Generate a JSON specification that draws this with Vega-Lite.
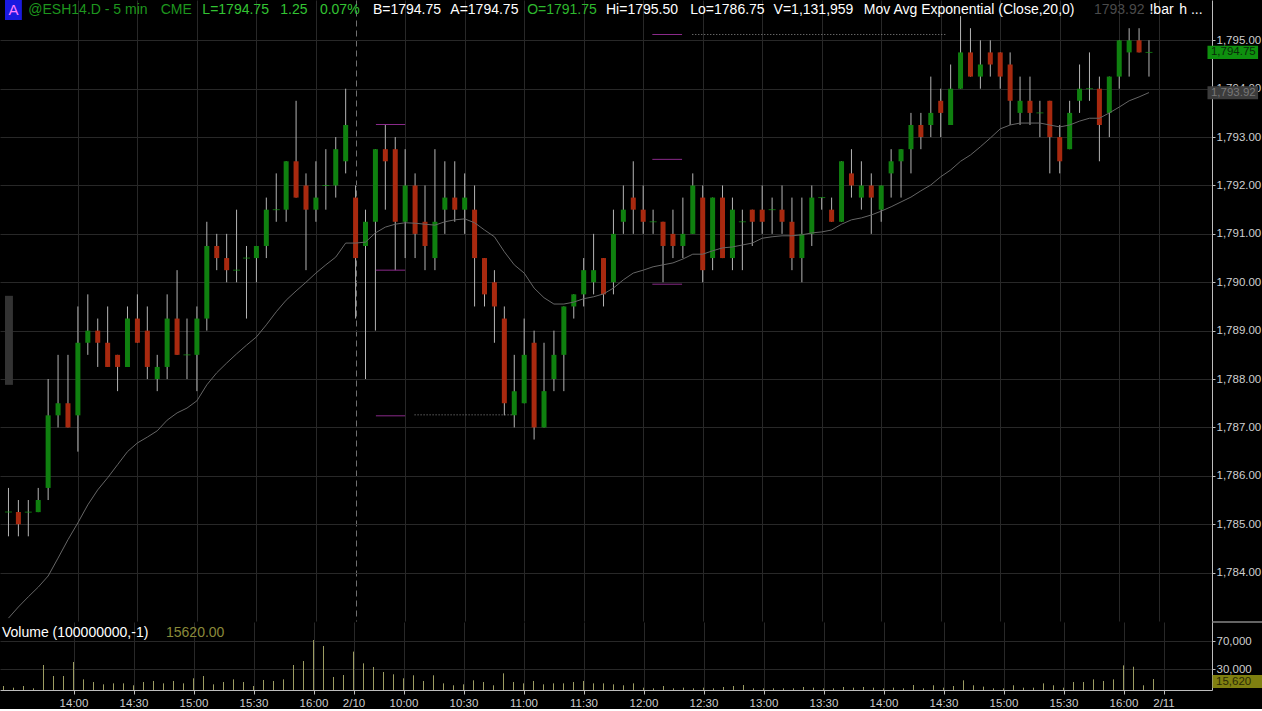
{
"$schema": "https://vega.github.io/schema/vega-lite/v6.json",
"background": "#000000",
"padding": 0,
"spacing": 1,
"bounds": "flush",
"config": {
  "view": {"stroke": null},
  "axis": {"labelFont": "Liberation Sans", "labelFontSize": 11.5, "labelColor": "#cfcfcf", "domainColor": "#bdbdbd", "tickColor": "#bdbdbd", "gridColor": "#282828", "title": null, "tickSize": 3, "labelPadding": 2, "labelOverlap": false, "labelFlush": false, "labelBound": false},
  "text": {"font": "Liberation Sans"}
},
"datasets": {
"bars": [
{"k":0,"o":1785.25,"h":1785.75,"l":1784.75,"c":1785.25,"v":5700,"e":1783.06},
{"k":1,"o":1785.25,"h":1785.5,"l":1784.75,"c":1785.0,"v":3300,"e":1783.29},
{"k":2,"o":1785.25,"h":1785.5,"l":1784.75,"c":1785.25,"v":5700,"e":1783.5},
{"k":3,"o":1785.25,"h":1785.75,"l":1785.25,"c":1785.5,"v":2400,"e":1783.7},
{"k":4,"o":1785.75,"h":1788.0,"l":1785.5,"c":1787.25,"v":35700,"e":1783.93},
{"k":5,"o":1787.25,"h":1788.5,"l":1787.0,"c":1787.5,"v":20000,"e":1784.3},
{"k":6,"o":1787.5,"h":1788.5,"l":1787.0,"c":1787.0,"v":20000,"e":1784.68},
{"k":7,"o":1787.25,"h":1789.5,"l":1786.5,"c":1788.75,"v":40000,"e":1785.03},
{"k":8,"o":1788.75,"h":1789.75,"l":1788.5,"c":1789.0,"v":15200,"e":1785.4},
{"k":9,"o":1789.0,"h":1789.25,"l":1788.25,"c":1788.75,"v":11400,"e":1785.71},
{"k":10,"o":1788.75,"h":1789.5,"l":1788.25,"c":1788.25,"v":8100,"e":1785.96},
{"k":11,"o":1788.5,"h":1788.5,"l":1787.75,"c":1788.25,"v":9500,"e":1786.23},
{"k":12,"o":1788.25,"h":1789.5,"l":1788.25,"c":1789.25,"v":9500,"e":1786.5},
{"k":13,"o":1789.25,"h":1789.75,"l":1788.75,"c":1788.75,"v":6700,"e":1786.68},
{"k":14,"o":1789.0,"h":1789.5,"l":1788.0,"c":1788.25,"v":11400,"e":1786.8},
{"k":15,"o":1788.0,"h":1788.5,"l":1787.75,"c":1788.25,"v":12900,"e":1786.93},
{"k":16,"o":1788.25,"h":1789.75,"l":1788.0,"c":1789.25,"v":9500,"e":1787.15},
{"k":17,"o":1789.25,"h":1790.25,"l":1788.5,"c":1788.5,"v":12900,"e":1787.3},
{"k":18,"o":1788.5,"h":1789.25,"l":1788.0,"c":1788.5,"v":9500,"e":1787.4},
{"k":19,"o":1788.5,"h":1789.5,"l":1787.75,"c":1789.25,"v":16700,"e":1787.55},
{"k":20,"o":1789.25,"h":1791.25,"l":1789.0,"c":1790.75,"v":20000,"e":1787.88},
{"k":21,"o":1790.75,"h":1791.0,"l":1790.25,"c":1790.5,"v":8100,"e":1788.13},
{"k":22,"o":1790.5,"h":1791.0,"l":1790.0,"c":1790.25,"v":11400,"e":1788.33},
{"k":23,"o":1790.25,"h":1791.5,"l":1790.0,"c":1790.25,"v":15200,"e":1788.52},
{"k":24,"o":1790.5,"h":1790.75,"l":1789.25,"c":1790.5,"v":11400,"e":1788.7},
{"k":25,"o":1790.5,"h":1790.75,"l":1790.0,"c":1790.75,"v":5700,"e":1788.87},
{"k":26,"o":1790.75,"h":1791.75,"l":1790.5,"c":1791.5,"v":14300,"e":1789.12},
{"k":27,"o":1791.5,"h":1792.25,"l":1791.25,"c":1791.5,"v":12900,"e":1789.39},
{"k":28,"o":1791.5,"h":1792.5,"l":1791.25,"c":1792.5,"v":15200,"e":1789.63},
{"k":29,"o":1792.5,"h":1793.75,"l":1791.75,"c":1791.75,"v":35700,"e":1789.82},
{"k":30,"o":1792.0,"h":1792.25,"l":1790.25,"c":1791.5,"v":41400,"e":1790.0},
{"k":31,"o":1791.5,"h":1792.5,"l":1791.25,"c":1791.75,"v":71400,"e":1790.19},
{"k":32,"o":1792.0,"h":1792.75,"l":1791.5,"c":1792.0,"v":62900,"e":1790.36},
{"k":33,"o":1792.0,"h":1793.0,"l":1791.75,"c":1792.75,"v":18600,"e":1790.52},
{"k":34,"o":1792.5,"h":1794.0,"l":1792.25,"c":1793.25,"v":21400,"e":1790.81},
{"k":35,"o":1791.75,"h":1792.0,"l":1789.25,"c":1790.5,"v":54800,"e":1790.81},
{"k":36,"o":1790.75,"h":1791.5,"l":1788.0,"c":1791.25,"v":38100,"e":1790.83},
{"k":37,"o":1791.25,"h":1792.75,"l":1789.0,"c":1792.75,"v":32900,"e":1791.02},
{"k":38,"o":1792.75,"h":1793.25,"l":1791.5,"c":1792.5,"v":25700,"e":1791.14},
{"k":39,"o":1792.75,"h":1793.0,"l":1790.25,"c":1791.25,"v":22400,"e":1791.2},
{"k":40,"o":1791.25,"h":1792.75,"l":1790.5,"c":1792.0,"v":16700,"e":1791.23},
{"k":41,"o":1792.0,"h":1792.25,"l":1790.5,"c":1791.0,"v":21000,"e":1791.22},
{"k":42,"o":1791.25,"h":1792.0,"l":1790.25,"c":1790.75,"v":12900,"e":1791.2},
{"k":43,"o":1790.5,"h":1792.75,"l":1790.25,"c":1791.25,"v":21000,"e":1791.18},
{"k":44,"o":1791.5,"h":1792.5,"l":1791.0,"c":1791.75,"v":9500,"e":1791.25},
{"k":45,"o":1791.75,"h":1792.5,"l":1791.25,"c":1791.5,"v":6700,"e":1791.29},
{"k":46,"o":1791.5,"h":1792.25,"l":1791.0,"c":1791.75,"v":8100,"e":1791.31},
{"k":47,"o":1791.5,"h":1792.0,"l":1789.5,"c":1790.5,"v":13800,"e":1791.23},
{"k":48,"o":1790.5,"h":1790.5,"l":1789.5,"c":1789.75,"v":11400,"e":1791.08},
{"k":49,"o":1790.0,"h":1790.25,"l":1788.75,"c":1789.5,"v":6700,"e":1790.94},
{"k":50,"o":1789.25,"h":1789.5,"l":1787.25,"c":1787.5,"v":23800,"e":1790.63},
{"k":51,"o":1787.25,"h":1788.5,"l":1787.0,"c":1787.75,"v":11400,"e":1790.36},
{"k":52,"o":1787.5,"h":1789.25,"l":1787.5,"c":1788.5,"v":9500,"e":1790.19},
{"k":53,"o":1788.75,"h":1789.0,"l":1786.75,"c":1787.0,"v":12900,"e":1789.88},
{"k":54,"o":1787.0,"h":1788.75,"l":1787.0,"c":1787.75,"v":8100,"e":1789.68},
{"k":55,"o":1788.0,"h":1789.0,"l":1787.75,"c":1788.5,"v":9500,"e":1789.55},
{"k":56,"o":1788.5,"h":1789.5,"l":1787.75,"c":1789.5,"v":9500,"e":1789.55},
{"k":57,"o":1789.5,"h":1789.75,"l":1789.25,"c":1789.75,"v":11400,"e":1789.59},
{"k":58,"o":1789.75,"h":1790.5,"l":1789.5,"c":1790.25,"v":12900,"e":1789.66},
{"k":59,"o":1790.0,"h":1791.0,"l":1789.75,"c":1790.25,"v":9500,"e":1789.7},
{"k":60,"o":1790.5,"h":1790.5,"l":1789.5,"c":1789.75,"v":9500,"e":1789.76},
{"k":61,"o":1790.0,"h":1791.5,"l":1789.75,"c":1791.0,"v":8100,"e":1789.88},
{"k":62,"o":1791.25,"h":1792.0,"l":1791.0,"c":1791.5,"v":6700,"e":1790.05},
{"k":63,"o":1791.75,"h":1792.5,"l":1791.0,"c":1791.5,"v":9500,"e":1790.19},
{"k":64,"o":1791.5,"h":1792.0,"l":1791.0,"c":1791.25,"v":3300,"e":1790.25},
{"k":65,"o":1791.25,"h":1791.5,"l":1791.0,"c":1791.25,"v":2400,"e":1790.32},
{"k":66,"o":1791.25,"h":1791.25,"l":1790.0,"c":1790.75,"v":5700,"e":1790.36},
{"k":67,"o":1791.0,"h":1791.5,"l":1790.5,"c":1790.75,"v":2400,"e":1790.4},
{"k":68,"o":1790.75,"h":1791.75,"l":1790.5,"c":1791.0,"v":3300,"e":1790.48},
{"k":69,"o":1791.0,"h":1792.25,"l":1791.0,"c":1792.0,"v":2400,"e":1790.58},
{"k":70,"o":1791.75,"h":1792.0,"l":1790.0,"c":1790.25,"v":3300,"e":1790.58},
{"k":71,"o":1790.5,"h":1791.75,"l":1790.25,"c":1791.75,"v":2400,"e":1790.65},
{"k":72,"o":1791.75,"h":1792.0,"l":1790.5,"c":1790.5,"v":4300,"e":1790.71},
{"k":73,"o":1790.5,"h":1791.75,"l":1790.25,"c":1791.5,"v":5700,"e":1790.73},
{"k":74,"o":1791.25,"h":1791.5,"l":1790.25,"c":1791.25,"v":7100,"e":1790.77},
{"k":75,"o":1791.5,"h":1791.5,"l":1790.75,"c":1791.25,"v":2400,"e":1790.81},
{"k":76,"o":1791.5,"h":1792.0,"l":1791.0,"c":1791.25,"v":2400,"e":1790.91},
{"k":77,"o":1791.5,"h":1791.75,"l":1791.0,"c":1791.5,"v":2400,"e":1790.94},
{"k":78,"o":1791.5,"h":1792.0,"l":1791.0,"c":1791.25,"v":2400,"e":1790.96},
{"k":79,"o":1791.25,"h":1791.75,"l":1790.25,"c":1790.5,"v":2400,"e":1790.96},
{"k":80,"o":1790.5,"h":1791.75,"l":1790.0,"c":1791.0,"v":4300,"e":1790.98},
{"k":81,"o":1791.0,"h":1792.0,"l":1790.75,"c":1791.75,"v":3300,"e":1791.02},
{"k":82,"o":1791.75,"h":1791.75,"l":1791.5,"c":1791.75,"v":2400,"e":1791.04},
{"k":83,"o":1791.5,"h":1791.75,"l":1791.25,"c":1791.25,"v":2400,"e":1791.08},
{"k":84,"o":1791.25,"h":1792.5,"l":1791.25,"c":1792.5,"v":4300,"e":1791.2},
{"k":85,"o":1792.25,"h":1792.75,"l":1791.75,"c":1792.0,"v":3300,"e":1791.29},
{"k":86,"o":1791.75,"h":1792.5,"l":1791.5,"c":1792.0,"v":4300,"e":1791.33},
{"k":87,"o":1792.0,"h":1792.25,"l":1791.0,"c":1791.75,"v":3300,"e":1791.39},
{"k":88,"o":1791.5,"h":1792.0,"l":1791.25,"c":1792.0,"v":2400,"e":1791.47},
{"k":89,"o":1792.25,"h":1792.75,"l":1791.75,"c":1792.5,"v":3300,"e":1791.56},
{"k":90,"o":1792.5,"h":1792.75,"l":1791.75,"c":1792.75,"v":2400,"e":1791.66},
{"k":91,"o":1792.75,"h":1793.5,"l":1792.25,"c":1793.25,"v":7100,"e":1791.76},
{"k":92,"o":1793.25,"h":1793.5,"l":1792.75,"c":1793.0,"v":2400,"e":1791.89},
{"k":93,"o":1793.25,"h":1794.25,"l":1793.0,"c":1793.5,"v":6700,"e":1792.01},
{"k":94,"o":1793.75,"h":1794.0,"l":1793.0,"c":1793.5,"v":3300,"e":1792.18},
{"k":95,"o":1793.25,"h":1794.5,"l":1793.25,"c":1794.0,"v":5700,"e":1792.32},
{"k":96,"o":1794.0,"h":1795.5,"l":1794.0,"c":1794.75,"v":13800,"e":1792.5},
{"k":97,"o":1794.75,"h":1795.25,"l":1794.25,"c":1794.25,"v":6700,"e":1792.63},
{"k":98,"o":1794.25,"h":1795.0,"l":1794.0,"c":1794.5,"v":4800,"e":1792.8},
{"k":99,"o":1794.75,"h":1795.0,"l":1794.25,"c":1794.5,"v":2400,"e":1792.98},
{"k":100,"o":1794.75,"h":1794.75,"l":1794.0,"c":1794.25,"v":2400,"e":1793.17},
{"k":101,"o":1794.5,"h":1794.75,"l":1793.25,"c":1793.75,"v":6700,"e":1793.25},
{"k":102,"o":1793.5,"h":1794.25,"l":1793.25,"c":1793.75,"v":3300,"e":1793.29},
{"k":103,"o":1793.75,"h":1794.25,"l":1793.25,"c":1793.5,"v":3300,"e":1793.29},
{"k":104,"o":1793.5,"h":1793.75,"l":1793.0,"c":1793.5,"v":9500,"e":1793.29},
{"k":105,"o":1793.75,"h":1793.75,"l":1792.25,"c":1793.0,"v":6700,"e":1793.25},
{"k":106,"o":1793.0,"h":1793.25,"l":1792.25,"c":1792.5,"v":3300,"e":1793.21},
{"k":107,"o":1792.75,"h":1793.75,"l":1792.75,"c":1793.5,"v":11400,"e":1793.25},
{"k":108,"o":1793.75,"h":1794.5,"l":1793.5,"c":1794.0,"v":11400,"e":1793.33},
{"k":109,"o":1794.0,"h":1794.75,"l":1793.75,"c":1794.0,"v":15200,"e":1793.39},
{"k":110,"o":1794.0,"h":1794.25,"l":1792.5,"c":1793.25,"v":12900,"e":1793.39},
{"k":111,"o":1793.5,"h":1794.25,"l":1793.0,"c":1794.25,"v":15200,"e":1793.5},
{"k":112,"o":1794.25,"h":1795.0,"l":1794.0,"c":1795.0,"v":35200,"e":1793.62},
{"k":113,"o":1794.75,"h":1795.25,"l":1794.25,"c":1795.0,"v":33300,"e":1793.75},
{"k":114,"o":1795.0,"h":1795.25,"l":1794.75,"c":1794.75,"v":6700,"e":1793.83},
{"k":115,"o":1794.75,"h":1795.0,"l":1794.25,"c":1794.75,"v":15620,"e":1793.92}
],
"levels": [
{"p":1795.12,"a":64.92,"b":67.92},
{"p":1792.54,"a":64.92,"b":67.92},
{"p":1789.96,"a":64.92,"b":67.92},
{"p":1793.26,"a":37.05,"b":40.0},
{"p":1790.25,"a":37.05,"b":40.0},
{"p":1787.24,"a":37.05,"b":40.0}
],
"dots": [
{"p":1795.12,"a":68.95,"b":94.65},
{"p":1787.26,"a":40.95,"b":50.85}
]
},
"vconcat": [
{
  "width": 1212,
  "height": 621,
  "layer": [
    {
      "data": {"name": "bars"},
      "mark": {"type": "rule", "color": "#b4b4b4", "strokeWidth": 1},
      "encoding": {
        "x": {"field": "k", "type": "quantitative", "scale": {"domain": [-0.35, 120.85], "nice": false, "zero": false},
              "axis": {"orient": "bottom", "labels": false, "ticks": false, "domain": false, "grid": true,
                       "values": [7,13,19,25,31,35,40,46,52,58,64,70,76,82,88,94,100,106,112,116],
                       "gridColor": {"condition": {"test": "datum.value == 35", "value": "#707070"}, "value": "#282828"},
                       "gridDash": {"condition": {"test": "datum.value == 35", "value": [6, 4]}, "value": []}}},
        "y": {"field": "l", "type": "quantitative", "scale": {"domain": [1783.0, 1795.833], "nice": false, "zero": false},
              "axis": {"orient": "right", "grid": true, "values": [1784,1785,1786,1787,1788,1789,1790,1791,1792,1793,1794,1795], "format": ",.2f", "labelPadding": 1}},
        "y2": {"field": "h"}
      }
    },
    {
      "data": {"name": "bars"},
      "mark": {"type": "bar", "width": 5},
      "encoding": {
        "x": {"field": "k", "type": "quantitative"},
        "y": {"field": "o", "type": "quantitative"},
        "y2": {"field": "c"},
        "color": {"condition": {"test": "datum.c >= datum.o", "value": "#0f800f"}, "value": "#a8290f"}
      }
    },
    {
      "data": {"name": "bars"},
      "transform": [{"filter": "datum.o == datum.c"}],
      "mark": {"type": "tick", "orient": "horizontal", "size": 7, "thickness": 1, "color": "#159a15"},
      "encoding": {
        "x": {"field": "k", "type": "quantitative"},
        "y": {"field": "c", "type": "quantitative"}
      }
    },
    {
      "data": {"name": "bars"},
      "mark": {"type": "line", "color": "#666666", "strokeWidth": 1},
      "encoding": {
        "x": {"field": "k", "type": "quantitative"},
        "y": {"field": "e", "type": "quantitative"}
      }
    },
    {
      "data": {"name": "levels"},
      "mark": {"type": "rule", "color": "#8a2a8a", "strokeWidth": 1},
      "encoding": {
        "x": {"field": "a", "type": "quantitative"},
        "x2": {"field": "b"},
        "y": {"field": "p", "type": "quantitative"}
      }
    },
    {
      "data": {"name": "dots"},
      "mark": {"type": "rule", "color": "#8c8c8c", "strokeWidth": 1, "strokeDash": [1, 2]},
      "encoding": {
        "x": {"field": "a", "type": "quantitative"},
        "x2": {"field": "b"},
        "y": {"field": "p", "type": "quantitative"}
      }
    },
    {
      "data": {"values": [{}]},
      "mark": {"type": "rect", "color": "#333333"},
      "encoding": {"x": {"datum": -0.35, "type": "quantitative"}, "x2": {"datum": 0.45}, "y": {"datum": 1789.72, "type": "quantitative"}, "y2": {"datum": 1787.88}}
    },
    {
      "data": {"values": [{}]},
      "mark": {"type": "rect", "color": "#1a1ae0"},
      "encoding": {"x": {"datum": -0.35, "type": "quantitative"}, "x2": {"datum": 1.35}, "y": {"datum": 1795.833, "type": "quantitative"}, "y2": {"datum": 1795.42}}
    },
    {
      "data": {"values": [{}]},
      "mark": {"type": "text", "text": "A", "align": "center", "baseline": "middle", "fontSize": 15, "color": "#ff7cff"},
      "encoding": {"x": {"datum": 0.5, "type": "quantitative"}, "y": {"datum": 1795.63, "type": "quantitative"}}
    },
    {
      "data": {"values": [{}]},
      "mark": {"type": "text", "text": "@ESH14.D - 5 min", "align": "left", "baseline": "middle", "fontSize": 14, "color": "#1e961e"},
      "encoding": {"x": {"datum": 2.0, "type": "quantitative"}, "y": {"datum": 1795.63, "type": "quantitative"}}
    },
    {
      "data": {"values": [{}]},
      "mark": {"type": "text", "text": "CME", "align": "left", "baseline": "middle", "fontSize": 14, "color": "#1e961e"},
      "encoding": {"x": {"datum": 15.35, "type": "quantitative"}, "y": {"datum": 1795.63, "type": "quantitative"}}
    },
    {
      "data": {"values": [{}]},
      "mark": {"type": "text", "text": "L=1794.75", "align": "left", "baseline": "middle", "fontSize": 14, "color": "#33c433"},
      "encoding": {"x": {"datum": 19.55, "type": "quantitative"}, "y": {"datum": 1795.63, "type": "quantitative"}}
    },
    {
      "data": {"values": [{}]},
      "mark": {"type": "text", "text": "1.25", "align": "left", "baseline": "middle", "fontSize": 14, "color": "#33c433"},
      "encoding": {"x": {"datum": 27.4, "type": "quantitative"}, "y": {"datum": 1795.63, "type": "quantitative"}}
    },
    {
      "data": {"values": [{}]},
      "mark": {"type": "text", "text": "0.07%", "align": "left", "baseline": "middle", "fontSize": 14, "color": "#33c433"},
      "encoding": {"x": {"datum": 31.4, "type": "quantitative"}, "y": {"datum": 1795.63, "type": "quantitative"}}
    },
    {
      "data": {"values": [{}]},
      "mark": {"type": "text", "text": "B=1794.75", "align": "left", "baseline": "middle", "fontSize": 14, "color": "#ffffff"},
      "encoding": {"x": {"datum": 36.75, "type": "quantitative"}, "y": {"datum": 1795.63, "type": "quantitative"}}
    },
    {
      "data": {"values": [{}]},
      "mark": {"type": "text", "text": "A=1794.75", "align": "left", "baseline": "middle", "fontSize": 14, "color": "#ffffff"},
      "encoding": {"x": {"datum": 44.55, "type": "quantitative"}, "y": {"datum": 1795.63, "type": "quantitative"}}
    },
    {
      "data": {"values": [{}]},
      "mark": {"type": "text", "text": "O=1791.75", "align": "left", "baseline": "middle", "fontSize": 14, "color": "#2eb82e"},
      "encoding": {"x": {"datum": 52.3, "type": "quantitative"}, "y": {"datum": 1795.63, "type": "quantitative"}}
    },
    {
      "data": {"values": [{}]},
      "mark": {"type": "text", "text": "Hi=1795.50", "align": "left", "baseline": "middle", "fontSize": 14, "color": "#ffffff"},
      "encoding": {"x": {"datum": 60.25, "type": "quantitative"}, "y": {"datum": 1795.63, "type": "quantitative"}}
    },
    {
      "data": {"values": [{}]},
      "mark": {"type": "text", "text": "Lo=1786.75", "align": "left", "baseline": "middle", "fontSize": 14, "color": "#ffffff"},
      "encoding": {"x": {"datum": 68.75, "type": "quantitative"}, "y": {"datum": 1795.63, "type": "quantitative"}}
    },
    {
      "data": {"values": [{}]},
      "mark": {"type": "text", "text": "V=1,131,959", "align": "left", "baseline": "middle", "fontSize": 14, "color": "#ffffff"},
      "encoding": {"x": {"datum": 77.15, "type": "quantitative"}, "y": {"datum": 1795.63, "type": "quantitative"}}
    },
    {
      "data": {"values": [{}]},
      "mark": {"type": "text", "text": "Mov Avg Exponential (Close,20,0)", "align": "left", "baseline": "middle", "fontSize": 14, "color": "#ffffff"},
      "encoding": {"x": {"datum": 86.25, "type": "quantitative"}, "y": {"datum": 1795.63, "type": "quantitative"}}
    },
    {
      "data": {"values": [{}]},
      "mark": {"type": "text", "text": "1793.92", "align": "left", "baseline": "middle", "fontSize": 14, "color": "#4a4a4a"},
      "encoding": {"x": {"datum": 109.45, "type": "quantitative"}, "y": {"datum": 1795.63, "type": "quantitative"}}
    },
    {
      "data": {"values": [{}]},
      "mark": {"type": "text", "text": "!bar", "align": "left", "baseline": "middle", "fontSize": 14, "color": "#ffffff"},
      "encoding": {"x": {"datum": 115.05, "type": "quantitative"}, "y": {"datum": 1795.63, "type": "quantitative"}}
    },
    {
      "data": {"values": [{}]},
      "mark": {"type": "text", "text": "h ...", "align": "left", "baseline": "middle", "fontSize": 14, "color": "#ffffff"},
      "encoding": {"x": {"datum": 118.05, "type": "quantitative"}, "y": {"datum": 1795.63, "type": "quantitative"}}
    },
    {
      "data": {"values": [{}]},
      "mark": {"type": "rect", "color": "#0e900e"},
      "encoding": {"x": {"datum": 120.9, "type": "quantitative"}, "x2": {"datum": 126.0}, "y": {"datum": 1794.885, "type": "quantitative"}, "y2": {"datum": 1794.615}}
    },
    {
      "data": {"values": [{}]},
      "mark": {"type": "text", "text": "1,794.75", "align": "left", "baseline": "middle", "fontSize": 11.5, "color": "#0a2a0a"},
      "encoding": {"x": {"datum": 121.25, "type": "quantitative"}, "y": {"datum": 1794.75, "type": "quantitative"}}
    },
    {
      "data": {"values": [{}]},
      "mark": {"type": "rect", "color": "#3c3c3c"},
      "encoding": {"x": {"datum": 120.9, "type": "quantitative"}, "x2": {"datum": 126.0}, "y": {"datum": 1794.05, "type": "quantitative"}, "y2": {"datum": 1793.78}}
    },
    {
      "data": {"values": [{}]},
      "mark": {"type": "text", "text": "1,793.92", "align": "left", "baseline": "middle", "fontSize": 11.5, "color": "#777777"},
      "encoding": {"x": {"datum": 121.25, "type": "quantitative"}, "y": {"datum": 1793.915, "type": "quantitative"}}
    }
  ]
},
{
  "width": 1212,
  "height": 68,
  "layer": [
    {
      "data": {"name": "bars"},
      "mark": {"type": "rule", "color": "#9c9c62", "strokeWidth": 1},
      "encoding": {
        "x": {"field": "k", "type": "quantitative", "scale": {"domain": [-0.35, 120.85], "nice": false, "zero": false},
              "axis": {"orient": "bottom", "grid": true, "tickSize": 4, "labelPadding": 3,
                       "values": [7,13,19,25,31,35,40,46,52,58,64,70,76,82,88,94,100,106,112,116],
                       "labelExpr": "['14:00','14:30','15:00','15:30','16:00','2/10','10:00','10:30','11:00','11:30','12:00','12:30','13:00','13:30','14:00','14:30','15:00','15:30','16:00','2/11'][indexof([7,13,19,25,31,35,40,46,52,58,64,70,76,82,88,94,100,106,112,116], datum.value)]"}},
        "y": {"field": "v", "type": "quantitative", "scale": {"domain": [0, 97143], "nice": false, "zero": true},
              "axis": {"orient": "right", "grid": true, "values": [30000, 50000, 70000], "format": ",d", "labelPadding": 1,
                       "labelExpr": "datum.value == 50000 ? '' : datum.label"}},
        "y2": {"datum": 0}
      }
    },
    {
      "data": {"values": [{}]},
      "mark": {"type": "text", "text": "Volume (100000000,-1)", "align": "left", "baseline": "middle", "fontSize": 14, "color": "#ffffff"},
      "encoding": {"x": {"datum": -0.15, "type": "quantitative"}, "y": {"datum": 81400, "type": "quantitative"}}
    },
    {
      "data": {"values": [{}]},
      "mark": {"type": "text", "text": "15620.00", "align": "left", "baseline": "middle", "fontSize": 14, "color": "#8a8a3a"},
      "encoding": {"x": {"datum": 16.25, "type": "quantitative"}, "y": {"datum": 81400, "type": "quantitative"}}
    },
    {
      "data": {"values": [{}]},
      "mark": {"type": "rule", "color": "#c8c8c8", "strokeWidth": 1},
      "encoding": {"x": {"datum": 120.85, "type": "quantitative"}, "x2": {"datum": 126.0}, "y": {"datum": 97143, "type": "quantitative"}}
    },
    {
      "data": {"values": [{}]},
      "mark": {"type": "rect", "color": "#808010"},
      "encoding": {"x": {"datum": 120.9, "type": "quantitative"}, "x2": {"datum": 126.0}, "y": {"datum": 21400, "type": "quantitative"}, "y2": {"datum": 2850}}
    },
    {
      "data": {"values": [{}]},
      "mark": {"type": "text", "text": "15,620", "align": "left", "baseline": "middle", "fontSize": 11.5, "color": "#2a2a05"},
      "encoding": {"x": {"datum": 121.25, "type": "quantitative"}, "y": {"datum": 12100, "type": "quantitative"}}
    }
  ]
}
]
}
